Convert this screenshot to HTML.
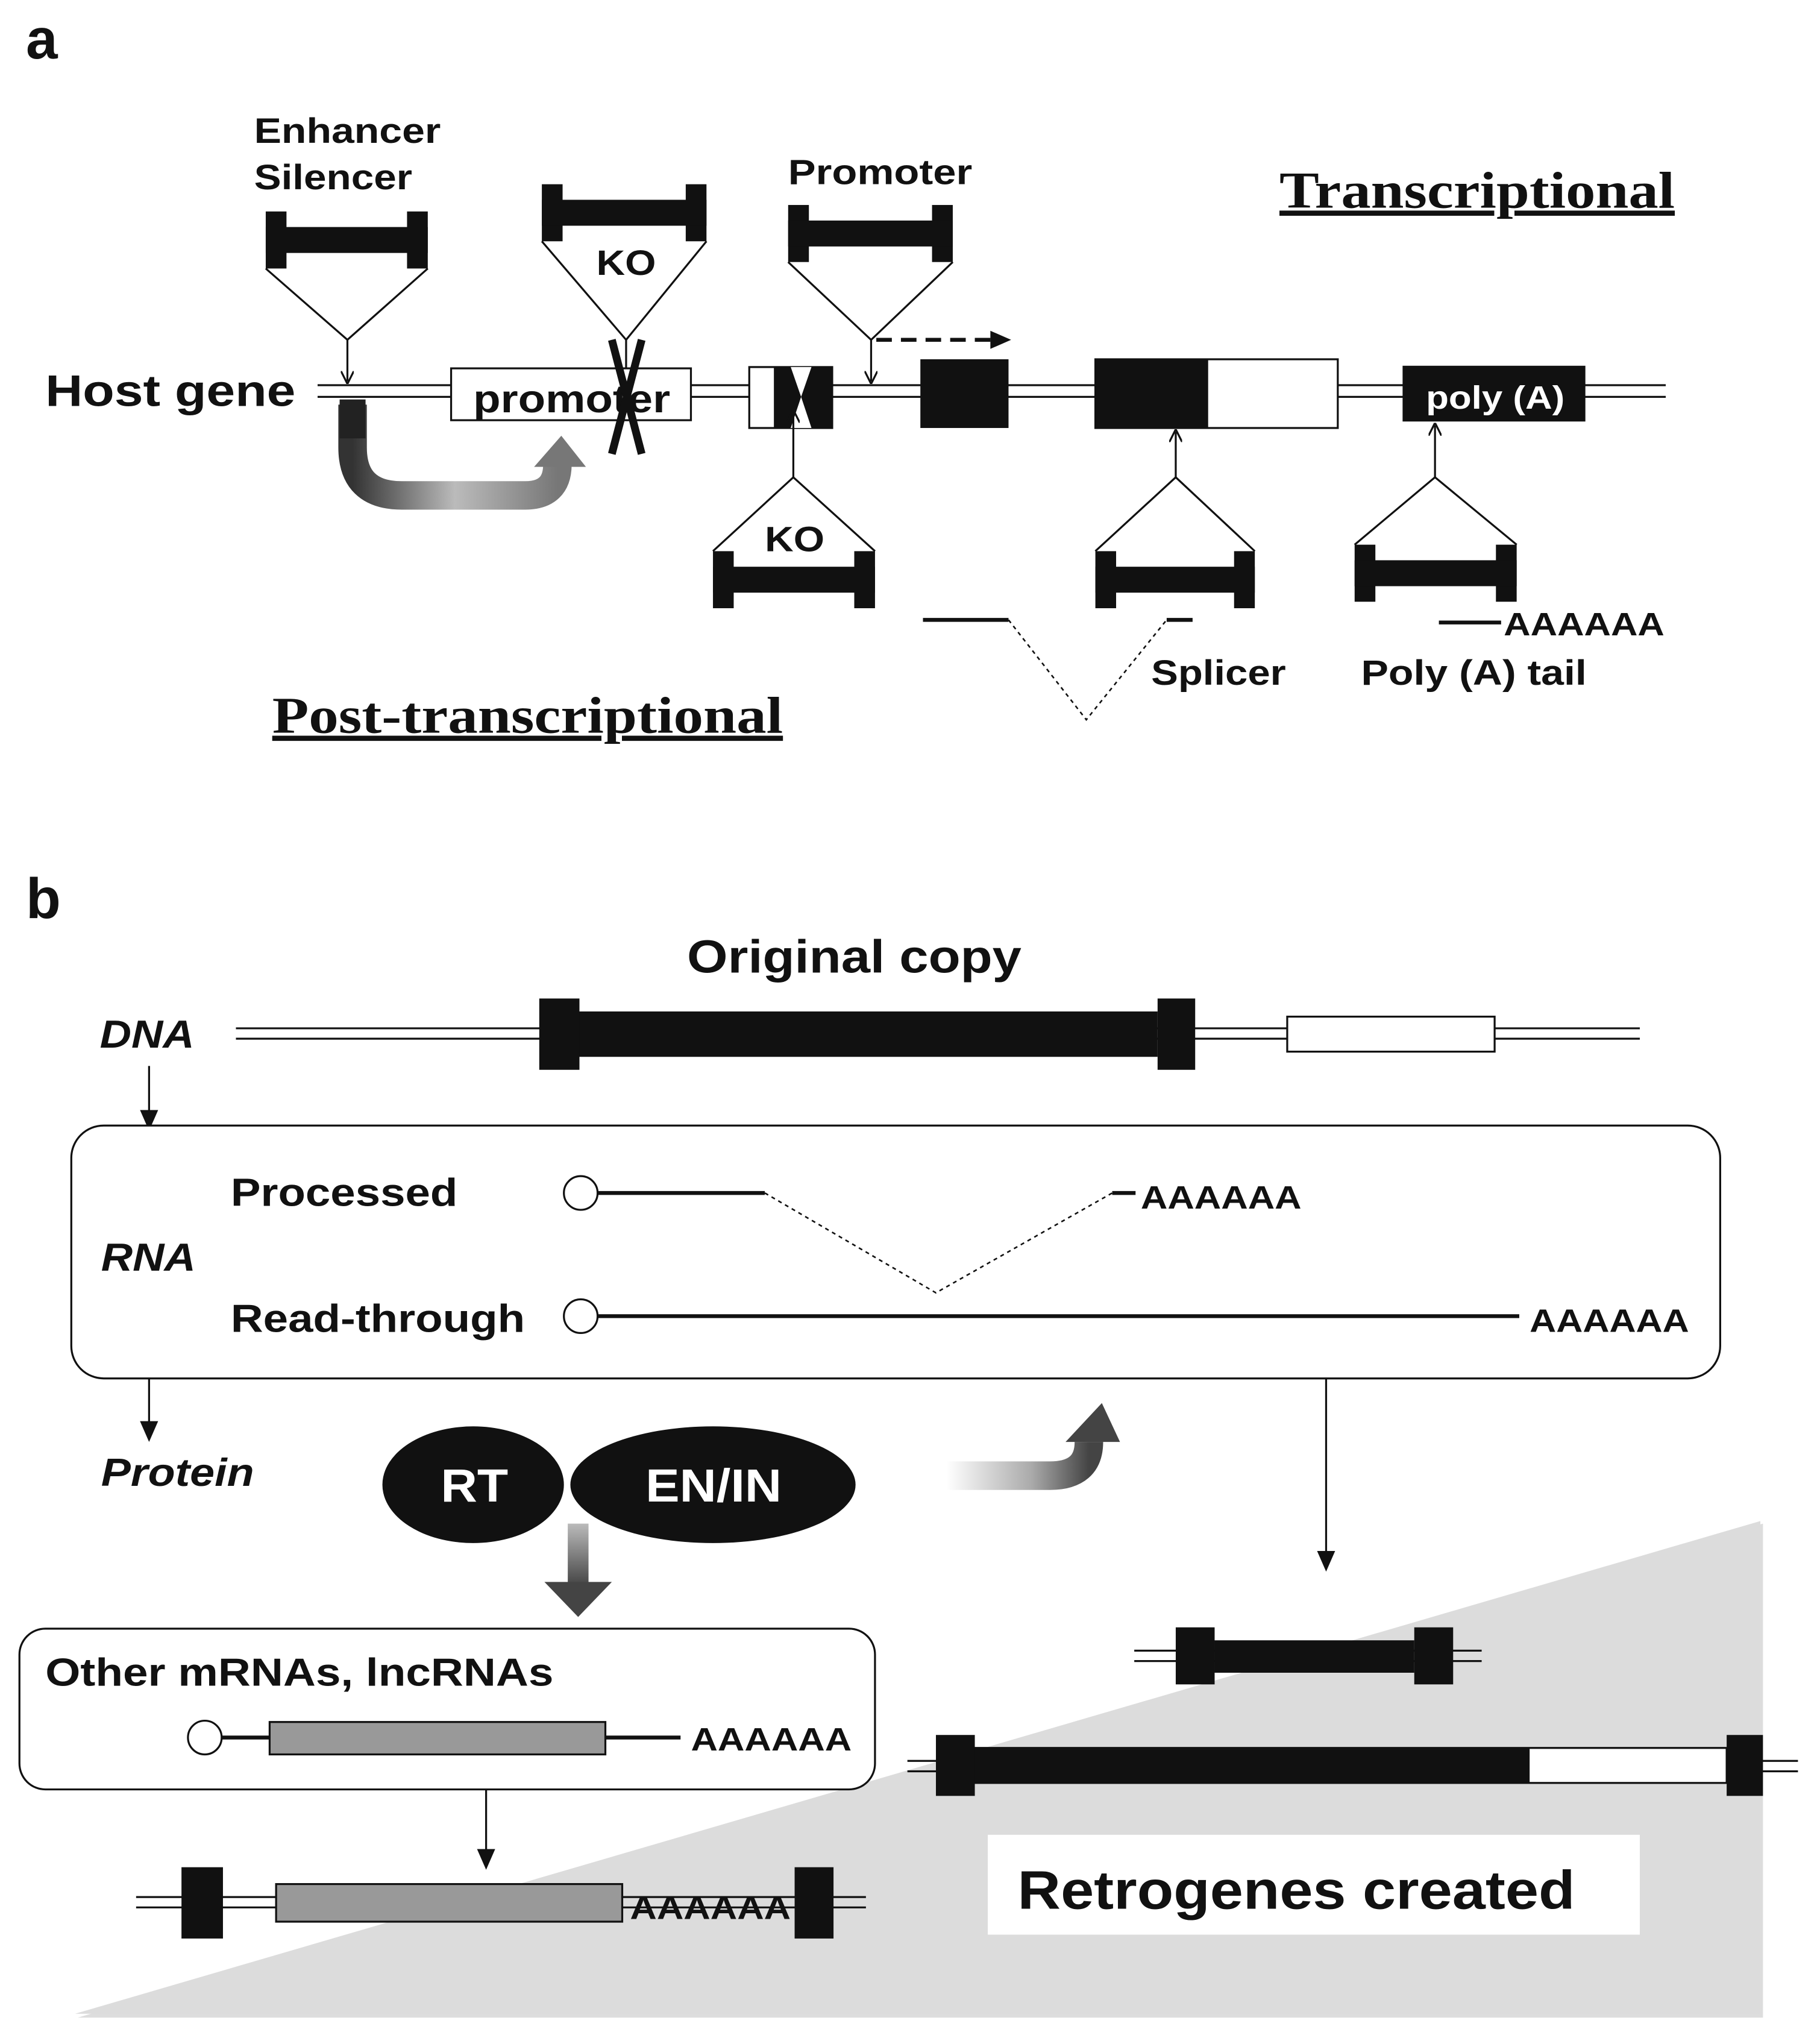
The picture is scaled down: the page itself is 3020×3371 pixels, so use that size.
<!DOCTYPE html>
<html><head><meta charset="utf-8"><style>
html,body{margin:0;padding:0;background:#fff}
svg{display:block}
text{font-family:"Liberation Sans",sans-serif;font-weight:bold;fill:#111}
.serif{font-family:"Liberation Serif",serif;text-decoration:underline}
</style></head><body>
<svg width="3020" height="3371" viewBox="0 0 1404 1567" xmlns="http://www.w3.org/2000/svg">
<defs>
<linearGradient id="g1" x1="0" y1="0" x2="1" y2="0"><stop offset="0" stop-color="#333"/><stop offset="0.5" stop-color="#bbb"/><stop offset="1" stop-color="#777"/></linearGradient>
<linearGradient id="g2" x1="0" y1="0" x2="1" y2="0"><stop offset="0" stop-color="#fff"/><stop offset="0.6" stop-color="#aaa"/><stop offset="1" stop-color="#444"/></linearGradient>
<linearGradient id="g3" x1="0" y1="0" x2="0" y2="1"><stop offset="0" stop-color="#bbb"/><stop offset="1" stop-color="#444"/></linearGradient>
<marker id="ah" markerWidth="10" markerHeight="10" refX="8" refY="5" orient="auto" markerUnits="userSpaceOnUse"><path d="M0,0 L10,5 L0,10" fill="none" stroke="#111" stroke-width="1.5"/></marker>
<marker id="af" markerWidth="16" markerHeight="14" refX="14" refY="7" orient="auto" markerUnits="userSpaceOnUse"><path d="M0,0 L16,7 L0,14 Z" fill="#111"/></marker>
</defs>

<text x="20" y="45" font-size="44">a</text>
<text x="196" y="110" font-size="27" textLength="144" lengthAdjust="spacingAndGlyphs">Enhancer</text>
<text x="196" y="146" font-size="27" textLength="122" lengthAdjust="spacingAndGlyphs">Silencer</text>

<g fill="#111">
<rect x="205" y="163" width="16" height="44"/><rect x="314" y="163" width="16" height="44"/><rect x="205" y="175" width="125" height="20"/>
<rect x="418" y="142" width="16" height="44"/><rect x="529" y="142" width="16" height="44"/><rect x="418" y="154" width="127" height="20"/>
<rect x="608" y="158" width="16" height="44"/><rect x="719" y="158" width="16" height="44"/><rect x="608" y="170" width="127" height="20"/>
</g>
<g fill="none" stroke="#111" stroke-width="1.5">
<path d="M205,207 L268,262 L330,207"/><line x1="268" y1="262" x2="268" y2="294" marker-end="url(#ah)"/>
<path d="M418,186 L483,262 L545,186"/><line x1="483" y1="262" x2="483" y2="294" marker-end="url(#ah)"/>
<path d="M608,202 L672,262 L735,202"/><line x1="672" y1="262" x2="672" y2="294" marker-end="url(#ah)"/>
</g>
<text x="460" y="212" font-size="27" textLength="46" lengthAdjust="spacingAndGlyphs">KO</text>
<text x="608" y="142" font-size="27" textLength="142" lengthAdjust="spacingAndGlyphs">Promoter</text>
<line x1="676" y1="262" x2="764" y2="262" stroke="#111" stroke-width="3" stroke-dasharray="12,7"/>
<path d="M764,255 L780,262 L764,269 Z" fill="#111"/>
<text x="987" y="160" font-size="40" class="serif" textLength="305" lengthAdjust="spacingAndGlyphs">Transcriptional</text>

<text x="35" y="313" font-size="34" textLength="193" lengthAdjust="spacingAndGlyphs">Host gene</text>
<line x1="245" y1="297" x2="1285" y2="297" stroke="#111" stroke-width="1.5"/>
<line x1="245" y1="306" x2="1285" y2="306" stroke="#111" stroke-width="1.5"/>
<path d="M272,312 L272,345 Q272,382 310,382 L405,382 Q430,382 430,358" fill="none" stroke="url(#g1)" stroke-width="22"/>
<path d="M412,360 L433,336 L452,360 Z" fill="#777"/>
<rect x="262" y="308" width="20" height="30" fill="#222"/>
<rect x="348" y="284" width="185" height="40" fill="#fff" stroke="#111" stroke-width="1.5"/>
<text x="365" y="318" font-size="30" textLength="152" lengthAdjust="spacingAndGlyphs">promoter</text>
<path d="M472,262 L495,350 M495,262 L472,350" stroke="#111" stroke-width="6"/>
<rect x="578" y="283" width="64" height="47" fill="#fff" stroke="#111" stroke-width="1.5"/>
<rect x="597" y="283" width="45" height="47" fill="#111"/>
<path d="M610,283 L626,283 L618,306 L626,330 L610,330 L618,306 Z" fill="#fff"/>
<rect x="710" y="277" width="68" height="53" fill="#111"/>
<rect x="845" y="277" width="187" height="53" fill="#fff" stroke="#111" stroke-width="1.5"/>
<rect x="845" y="277" width="87" height="53" fill="#111"/>
<rect x="1082" y="282" width="141" height="43" fill="#111"/>
<text x="1100" y="315" font-size="25" style="fill:#fff" textLength="107" lengthAdjust="spacingAndGlyphs">poly (A)</text>

<g fill="#111">
<rect x="550" y="425" width="16" height="44"/><rect x="659" y="425" width="16" height="44"/><rect x="550" y="437" width="125" height="20"/>
<rect x="845" y="425" width="16" height="44"/><rect x="952" y="425" width="16" height="44"/><rect x="845" y="437" width="123" height="20"/>
<rect x="1045" y="420" width="16" height="44"/><rect x="1154" y="420" width="16" height="44"/><rect x="1045" y="432" width="125" height="20"/>
</g>
<g fill="none" stroke="#111" stroke-width="1.5">
<path d="M550,425 L612,368 L675,425"/><line x1="612" y1="368" x2="612" y2="318" marker-end="url(#ah)"/>
<path d="M845,425 L907,368 L968,425"/><line x1="907" y1="368" x2="907" y2="333" marker-end="url(#ah)"/>
<path d="M1045,420 L1107,368 L1170,420"/><line x1="1107" y1="368" x2="1107" y2="328" marker-end="url(#ah)"/>
</g>
<text x="590" y="425" font-size="27" textLength="46" lengthAdjust="spacingAndGlyphs">KO</text>
<line x1="712" y1="478" x2="778" y2="478" stroke="#111" stroke-width="3"/>
<path d="M778,478 L838,555 L900,478" fill="none" stroke="#111" stroke-width="1.2" stroke-dasharray="3,3"/>
<line x1="900" y1="478" x2="920" y2="478" stroke="#111" stroke-width="3"/>
<text x="888" y="528" font-size="27" textLength="104" lengthAdjust="spacingAndGlyphs">Splicer</text>
<line x1="1110" y1="480" x2="1158" y2="480" stroke="#111" stroke-width="3"/>
<text x="1160" y="490" font-size="25" textLength="124" lengthAdjust="spacingAndGlyphs">AAAAAA</text>
<text x="1050" y="528" font-size="27" textLength="174" lengthAdjust="spacingAndGlyphs">Poly (A) tail</text>
<text x="210" y="565" font-size="40" class="serif" textLength="394" lengthAdjust="spacingAndGlyphs">Post-transcriptional</text>

<text x="20" y="708" font-size="44">b</text>
<text x="530" y="750" font-size="36" textLength="258" lengthAdjust="spacingAndGlyphs">Original copy</text>
<text x="77" y="808" font-size="30" font-style="italic" textLength="73" lengthAdjust="spacingAndGlyphs">DNA</text>
<line x1="182" y1="793" x2="1265" y2="793" stroke="#111" stroke-width="1.5"/>
<line x1="182" y1="801" x2="1265" y2="801" stroke="#111" stroke-width="1.5"/>
<rect x="416" y="770" width="31" height="55" fill="#111"/>
<rect x="447" y="780" width="446" height="35" fill="#111"/>
<rect x="893" y="770" width="29" height="55" fill="#111"/>
<rect x="993" y="784" width="160" height="27" fill="#fff" stroke="#111" stroke-width="1.5"/>
<line x1="115" y1="822" x2="115" y2="870" stroke="#111" stroke-width="1.5" marker-end="url(#af)"/>

<rect x="55" y="868" width="1272" height="195" rx="25" fill="#fff" stroke="#111" stroke-width="1.5"/>
<text x="78" y="980" font-size="30" font-style="italic" textLength="73" lengthAdjust="spacingAndGlyphs">RNA</text>
<text x="178" y="930" font-size="30" textLength="175" lengthAdjust="spacingAndGlyphs">Processed</text>
<text x="178" y="1027" font-size="30" textLength="227" lengthAdjust="spacingAndGlyphs">Read-through</text>
<circle cx="448" cy="920" r="13" fill="#fff" stroke="#111" stroke-width="1.5"/>
<line x1="461" y1="920" x2="590" y2="920" stroke="#111" stroke-width="3"/>
<path d="M590,920 L722,997 L858,920" fill="none" stroke="#111" stroke-width="1.2" stroke-dasharray="3,3"/>
<line x1="858" y1="920" x2="876" y2="920" stroke="#111" stroke-width="3"/>
<text x="880" y="932" font-size="25" textLength="124" lengthAdjust="spacingAndGlyphs">AAAAAA</text>
<circle cx="448" cy="1015" r="13" fill="#fff" stroke="#111" stroke-width="1.5"/>
<line x1="461" y1="1015" x2="1172" y2="1015" stroke="#111" stroke-width="3"/>
<text x="1180" y="1027" font-size="25" textLength="123" lengthAdjust="spacingAndGlyphs">AAAAAA</text>

<line x1="115" y1="1063" x2="115" y2="1110" stroke="#111" stroke-width="1.5" marker-end="url(#af)"/>
<text x="78" y="1146" font-size="30" font-style="italic" textLength="118" lengthAdjust="spacingAndGlyphs">Protein</text>

<polygon points="60,1556 1360,1175 1360,1556" fill="#bbb" opacity="0.5"/>
<polygon points="58,1553 1358,1173 1358,1553" fill="#dcdcdc"/>

<ellipse cx="365" cy="1145" rx="70" ry="45" fill="#111"/>
<ellipse cx="550" cy="1145" rx="110" ry="45" fill="#111"/>
<text x="340" y="1158" font-size="36" style="fill:#fff" textLength="52" lengthAdjust="spacingAndGlyphs">RT</text>
<text x="498" y="1158" font-size="36" style="fill:#fff" textLength="105" lengthAdjust="spacingAndGlyphs">EN/IN</text>

<path d="M730,1138 L810,1138 Q840,1138 840,1112" fill="none" stroke="url(#g2)" stroke-width="22"/>
<path d="M822,1112 L850,1082 L864,1112 Z" fill="#444"/>
<rect x="438" y="1175" width="16" height="48" fill="url(#g3)"/>
<path d="M420,1220 L446,1247 L472,1220 Z" fill="#444"/>

<line x1="1023" y1="1063" x2="1023" y2="1210" stroke="#111" stroke-width="1.5" marker-end="url(#af)"/>

<rect x="15" y="1256" width="660" height="124" rx="20" fill="#fff" stroke="#111" stroke-width="1.5"/>
<text x="35" y="1300" font-size="30" textLength="392" lengthAdjust="spacingAndGlyphs">Other mRNAs, lncRNAs</text>
<circle cx="158" cy="1340" r="13" fill="#fff" stroke="#111" stroke-width="1.5"/>
<line x1="171" y1="1340" x2="525" y2="1340" stroke="#111" stroke-width="3"/>
<rect x="208" y="1328" width="259" height="25" fill="#999" stroke="#111" stroke-width="1.5"/>
<text x="533" y="1350" font-size="25" textLength="124" lengthAdjust="spacingAndGlyphs">AAAAAA</text>
<line x1="375" y1="1380" x2="375" y2="1440" stroke="#111" stroke-width="1.5" marker-end="url(#af)"/>

<line x1="105" y1="1463" x2="668" y2="1463" stroke="#111" stroke-width="1.5"/>
<line x1="105" y1="1471" x2="668" y2="1471" stroke="#111" stroke-width="1.5"/>
<rect x="140" y="1440" width="32" height="55" fill="#111"/>
<rect x="213" y="1453" width="267" height="29" fill="#999" stroke="#111" stroke-width="1.5"/>
<text x="486" y="1480" font-size="25" textLength="124" lengthAdjust="spacingAndGlyphs">AAAAAA</text>
<rect x="613" y="1440" width="30" height="55" fill="#111"/>

<line x1="875" y1="1273" x2="1143" y2="1273" stroke="#111" stroke-width="1.5"/>
<line x1="875" y1="1281" x2="1143" y2="1281" stroke="#111" stroke-width="1.5"/>
<rect x="907" y="1255" width="30" height="44" fill="#111"/>
<rect x="937" y="1265" width="154" height="25" fill="#111"/>
<rect x="1091" y="1255" width="30" height="44" fill="#111"/>

<line x1="700" y1="1358" x2="1387" y2="1358" stroke="#111" stroke-width="1.5"/>
<line x1="700" y1="1366" x2="1387" y2="1366" stroke="#111" stroke-width="1.5"/>
<rect x="752" y="1348" width="580" height="27" fill="#fff" stroke="#111" stroke-width="1.5"/>
<rect x="752" y="1348" width="428" height="27" fill="#111"/>
<rect x="722" y="1338" width="30" height="47" fill="#111"/>
<rect x="1332" y="1338" width="28" height="47" fill="#111"/>

<rect x="762" y="1415" width="503" height="77" fill="#fff"/>
<text x="785" y="1472" font-size="42" textLength="430" lengthAdjust="spacingAndGlyphs">Retrogenes created</text>
</svg>
</body></html>
